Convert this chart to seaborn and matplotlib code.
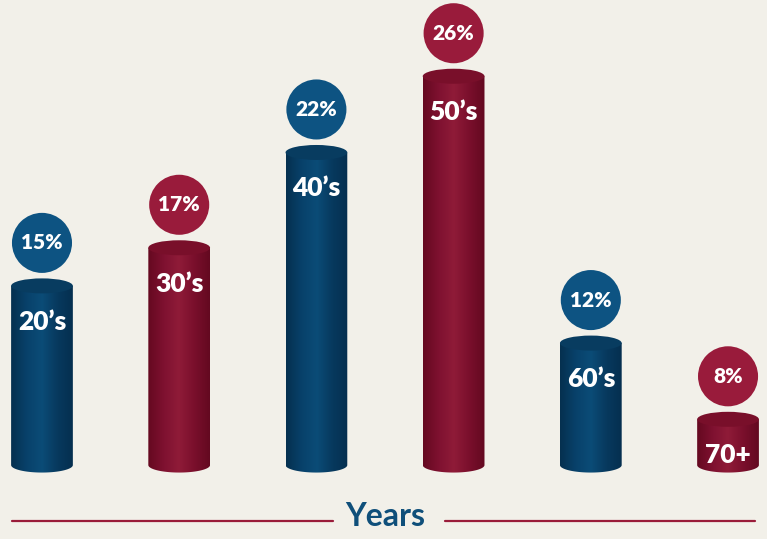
import numpy as np
import pandas as pd
import matplotlib
matplotlib.use("Agg")
import matplotlib.pyplot as plt
from matplotlib.patches import Ellipse, Polygon
from matplotlib.colors import LinearSegmentedColormap
from matplotlib.lines import Line2D
import seaborn as sns

ages = ["20’s", "30’s", "40’s", "50’s", "60’s", "70+"]
shares = [15, 17, 22, 26, 12, 8]
pct_labels = ["15%", "17%", "22%", "26%", "12%", "8%"]
groups = ["blue", "red", "blue", "red", "blue", "red"]

BASE = 5.6  # share value at which a cylinder has zero height
df = pd.DataFrame({"age": ages, "share": shares, "group": groups})
df["height"] = df["share"] - BASE

BG = "#f2f0e9"
body_cols = {"blue": ["#05304f", "#08416a", "#0b4c77", "#07395e", "#052f4f"],
             "red": ["#650920", "#7e1130", "#8f1b38", "#7a0f2c", "#630920"]}
top_cols = {"blue": "#083c60", "red": "#790f2a"}
circle_cols = {"blue": "#0d5382", "red": "#991b3b"}

sns.set_theme(style="white")
plt.rcParams["font.family"] = ["Lato", "DejaVu Sans"]

fig = plt.figure(figsize=(7.67, 5.39), dpi=100, facecolor=BG)
ax = fig.add_axes([0, 0, 1, 1])
ax.set_facecolor(BG)

sns.barplot(data=df, x="age", y="height", hue="age", palette=["#000000"] * 6,
            width=0.45, legend=False, ax=ax, alpha=0)

ax.set_xlim(-0.306, 5.284)
ax.set_ylim(-3.88, 24.4)
ax.axis("off")

px_y = 19.06  # pixels per data unit vertically
eb = 7.5 / px_y  # ellipse half height in data units

for patch, (_, row) in zip(ax.patches, df.iterrows()):
    x0 = patch.get_x()
    w = patch.get_width()
    h = patch.get_height()
    xc = x0 + w / 2
    a = w / 2
    # body outline: rectangle plus bottom half ellipse
    t = np.linspace(np.pi, 2 * np.pi, 60)
    arc = np.column_stack([xc + a * np.cos(t), 0 + eb * np.sin(t)])
    pts = np.vstack([[x0, h], arc, [x0 + w, h]])
    clip = Polygon(pts, closed=True, transform=ax.transData, facecolor="none", edgecolor="none")
    ax.add_patch(clip)
    cmap = LinearSegmentedColormap.from_list("c", body_cols[row["group"]])
    grad = np.linspace(0, 1, 256).reshape(1, -1)
    im = ax.imshow(grad, cmap=cmap, aspect="auto", extent=[x0, x0 + w, -eb - 0.1, h],
                   zorder=2, interpolation="bicubic")
    im.set_clip_path(clip)
    # top ellipse
    ax.add_patch(Ellipse((xc, h), w, 2 * eb, facecolor=top_cols[row["group"]],
                         edgecolor="none", zorder=3))
    ax.text(xc, h - 36 / px_y, row["age"], ha="center", va="center", color="white",
            fontsize=19, fontweight="heavy", zorder=4)

df["circle_y"] = df["height"] + 43 / px_y
sns.scatterplot(data=df, x="age", y="circle_y", hue="group", palette=circle_cols,
                s=1870, linewidth=0, legend=False, ax=ax, zorder=3)
for i, lab in enumerate(pct_labels):
    ax.text(i, df["circle_y"][i], lab, ha="center", va="center", color="white",
            fontsize=15, fontweight="heavy", zorder=4)

ax.set_xlim(-0.306, 5.284)
ax.set_ylim(-3.88, 24.4)

fig.text(385 / 767, 1 - 517 / 539, "Years", ha="center", va="center",
         color="#0f4f7a", fontsize=23, fontweight="bold")
line_y = 1 - 521 / 539
fig.add_artist(Line2D([12 / 767, 333 / 767], [line_y, line_y], color="#9a1c3a", lw=1.6))
fig.add_artist(Line2D([445 / 767, 755 / 767], [line_y, line_y], color="#9a1c3a", lw=1.6))

fig.savefig("out.png", dpi=100, facecolor=BG)
